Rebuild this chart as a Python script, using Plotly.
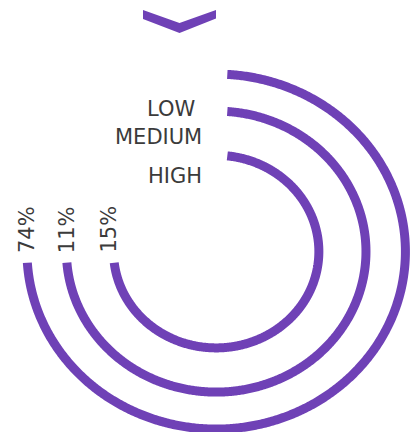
import numpy as np
import plotly.graph_objects as go

# ---- data ----
categories = ["LOW", "MEDIUM", "HIGH"]
values = [74, 11, 15]
value_labels = [f"{v}%" for v in values]

# ---- layout / style constants ----
W, H = 416, 432
CX, CY = 216.2, 251.6          # ring centre (axis units = px)
RADII = [177.5, 140.5, 96.3]   # ring radii (vertical), outer -> inner
ASPECT = 1.066                 # horizontal stretch of rings
GAP = 11.1                     # cut offset at both ends of each ring
PURPLE = "#6f41b6"
TEXT = "#3b3b3b"
FONT = "DejaVu Sans"

fig = go.Figure()

for cat, r in zip(categories, RADII):
    rx = r * ASPECT
    t0 = np.arcsin(GAP / rx)
    t1 = 1.5 * np.pi - np.arcsin(GAP / r)
    th = np.linspace(t0, t1, 600)
    fig.add_trace(go.Scatter(
        x=CX + rx * np.sin(th), y=CY - r * np.cos(th),
        mode="lines", line=dict(color=PURPLE, width=9, simplify=False),
        hoverinfo="skip", showlegend=False, name=cat))

# category labels
cat_pos = [(197, 108.5), (204, 137), (204, 175.5)]
for cat, (x, y) in zip(categories, cat_pos):
    fig.add_annotation(x=x, y=y, text=cat, showarrow=False,
                       xanchor="right", yanchor="middle",
                       font=dict(family=FONT, size=21, color=TEXT))

# value labels (rotated)
val_x = [26.5, 66.7, 108]
for lab, x in zip(value_labels, val_x):
    fig.add_annotation(x=x, y=255, text=lab, showarrow=False, textangle=-90,
                       xanchor="center", yanchor="bottom",
                       font=dict(family=FONT, size=21, color=TEXT))

# chevron decoration
fig.add_shape(type="path",
              path="M 143 10 L 179.5 23 L 216 10 L 216 18.5 L 179.5 33 L 143 19 Z",
              xref="x", yref="y", fillcolor=PURPLE, line=dict(width=0))

fig.update_layout(
    width=W, height=H, margin=dict(l=0, r=0, t=0, b=0),
    paper_bgcolor="white", plot_bgcolor="white",
    xaxis=dict(range=[0, W], visible=False, fixedrange=True),
    yaxis=dict(range=[H, 0], visible=False, fixedrange=True),
)

fig.write_html("out.html")
